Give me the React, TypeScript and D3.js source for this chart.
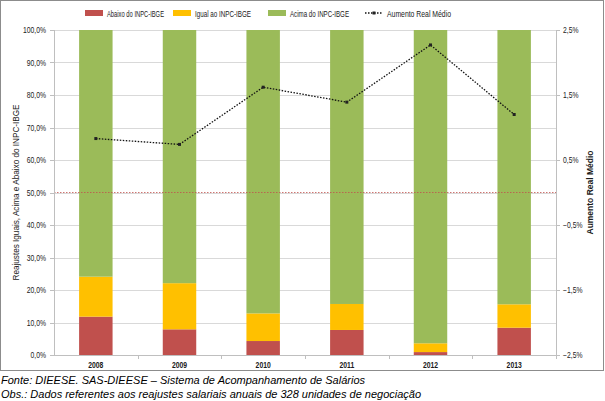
import { useEffect, useRef } from "react";
import * as d3 from "d3";

const years = ["2008", "2009", "2010", "2011", "2012", "2013"];
const abaixo = [11.8, 7.9, 4.3, 7.7, 0.9, 8.4];
const igual = [12.3, 14.2, 8.5, 8.0, 2.7, 7.2];
const acima = [75.9, 77.9, 87.2, 84.3, 96.4, 84.4];
const aumentoReal = [0.83, 0.74, 1.62, 1.39, 2.27, 1.2];
const leftTicks = [0, 10, 20, 30, 40, 50, 60, 70, 80, 90, 100];
const rightTicks = [-2.5, -1.5, -0.5, 0.5, 1.5, 2.5];

const seriesNames = ["Abaixo do INPC-IBGE", "Igual ao INPC-IBGE", "Acima do INPC-IBGE"];
const seriesColors = ["#C0504D", "#FFC000", "#9BBB59"];

export default function App() {
  const svgRef = useRef<SVGSVGElement>(null);

  useEffect(() => {
    if (!svgRef.current) return;
    const svg = d3.select(svgRef.current);
    svg.selectAll("*").remove();

    const left = 54, right = 556, top = 30, bottom = 355;
    const font = "'Liberation Sans', Arial, sans-serif";
    const fs = 8.5;
    const squeeze = 0.8; // approximate the narrow Calibri look

    // text drawn horizontally condensed
    const ctext = (g: any, x0: number, y0: number, str: string, anchor: string, bold = false) =>
      g.append("text")
        .attr("transform", `translate(${x0},${y0}) scale(${squeeze},1)`)
        .attr("text-anchor", anchor)
        .attr("font-family", font).attr("font-size", fs)
        .attr("font-weight", bold ? "bold" : "normal")
        .attr("fill", "#1a1a1a")
        .text(str);

    const x = d3.scaleBand().domain(years).range([left, right]).paddingInner(0.6).paddingOuter(0.3);
    const y = d3.scaleLinear().domain([0, 100]).range([bottom, top]);
    const y2 = d3.scaleLinear().domain([-2.5, 2.5]).range([bottom, top]);

    // chart frame
    svg.append("rect")
      .attr("x", 0.5).attr("y", 0.5).attr("width", 603).attr("height", 370)
      .attr("fill", "#fff").attr("stroke", "#8c8c8c");

    // gridlines
    svg.append("g").selectAll("line").data(leftTicks.filter(t => t > 0)).join("line")
      .attr("x1", left).attr("x2", right)
      .attr("y1", d => Math.round(y(d)) + 0.5).attr("y2", d => Math.round(y(d)) + 0.5)
      .attr("stroke", "#d9d9d9");

    // stacked bars
    const rows = years.map((yr, i) => ({ year: yr, a: abaixo[i], b: igual[i], c: acima[i] }));
    const stack = d3.stack<any>().keys(["a", "b", "c"])(rows);
    stack.forEach((layer, li) => {
      svg.append("g").selectAll("rect").data(layer).join("rect")
        .attr("x", d => x(d.data.year)!)
        .attr("width", x.bandwidth())
        .attr("y", d => y(d[1]))
        .attr("height", d => y(d[0]) - y(d[1]))
        .attr("fill", seriesColors[li]);
    });

    // 50% reference line
    svg.append("line")
      .attr("x1", left).attr("x2", right)
      .attr("y1", y(50)).attr("y2", y(50))
      .attr("stroke", "#C0504D").attr("stroke-width", 0.8).attr("stroke-dasharray", "1.5,1.5");

    // axes lines
    svg.append("line").attr("x1", left + 0.5).attr("x2", left + 0.5).attr("y1", top).attr("y2", bottom)
      .attr("stroke", "#bfbfbf");
    svg.append("line").attr("x1", right + 0.5).attr("x2", right + 0.5).attr("y1", top).attr("y2", bottom)
      .attr("stroke", "#bfbfbf");
    svg.append("line").attr("x1", left).attr("x2", right).attr("y1", bottom + 0.5).attr("y2", bottom + 0.5)
      .attr("stroke", "#bfbfbf");

    // left ticks
    const lt = svg.append("g");
    leftTicks.forEach(t => {
      lt.append("line").attr("x1", left - 4).attr("x2", left).attr("y1", Math.round(y(t)) + 0.5).attr("y2", Math.round(y(t)) + 0.5)
        .attr("stroke", "#bfbfbf");
      ctext(lt, left - 8, y(t) + 3, d3.format(".1f")(t).replace(".", ",") + "%", "end");
    });

    // right ticks
    const rt = svg.append("g");
    rightTicks.forEach(t => {
      rt.append("line").attr("x1", right).attr("x2", right + 4).attr("y1", Math.round(y2(t)) + 0.5).attr("y2", Math.round(y2(t)) + 0.5)
        .attr("stroke", "#bfbfbf");
      ctext(rt, right + 7, y2(t) + 3, d3.format(".1f")(t).replace(".", ",") + "%", "start");
    });

    // category ticks and labels
    years.forEach((yr, i) => {
      const cx = x(yr)! + x.bandwidth() / 2;
      const bx = left + (right - left) / years.length * (i + 1);
      svg.append("line").attr("x1", Math.round(bx) + 0.5).attr("x2", Math.round(bx) + 0.5)
        .attr("y1", bottom).attr("y2", bottom + 4).attr("stroke", "#bfbfbf");
      ctext(svg, cx, bottom + 13, yr, "middle", true);
    });

    // line series
    const line = d3.line<number>()
      .x((_, i) => x(years[i])! + x.bandwidth() / 2)
      .y(d => y2(d));
    svg.append("path").datum(aumentoReal).attr("d", line)
      .attr("fill", "none").attr("stroke", "#111").attr("stroke-width", 1.3).attr("stroke-dasharray", "1.5,1.5");
    svg.append("g").selectAll("rect").data(aumentoReal).join("rect")
      .attr("x", (_, i) => x(years[i])! + x.bandwidth() / 2 - 1.5)
      .attr("y", d => y2(d) - 1.5)
      .attr("width", 3).attr("height", 3).attr("fill", "#222");

    // axis titles
    svg.append("text")
      .attr("transform", `translate(19,${(top + bottom) / 2}) rotate(-90)`)
      .attr("text-anchor", "middle").attr("font-family", font).attr("font-size", 9).attr("fill", "#1a1a1a")
      .attr("textLength", 176).attr("lengthAdjust", "spacingAndGlyphs")
      .text("Reajustes Iguais, Acima e Abaixo do INPC-IBGE");
    svg.append("text")
      .attr("transform", `translate(593,${(top + bottom) / 2}) rotate(-90)`)
      .attr("text-anchor", "middle").attr("font-family", font).attr("font-size", 9).attr("font-weight", "bold")
      .attr("fill", "#1a1a1a")
      .attr("textLength", 84).attr("lengthAdjust", "spacingAndGlyphs")
      .text("Aumento Real Médio");

    // legend
    const lg = svg.append("g");
    const legendX = [85, 173, 268];
    const legendLen = [57, 56, 59];
    seriesNames.forEach((n, i) => {
      lg.append("rect").attr("x", legendX[i]).attr("y", 10).attr("width", 18).attr("height", 6).attr("fill", seriesColors[i]);
      lg.append("text").attr("x", legendX[i] + 22).attr("y", 16.5).attr("font-family", font).attr("font-size", 9.5)
        .attr("textLength", legendLen[i]).attr("lengthAdjust", "spacingAndGlyphs")
        .attr("fill", "#1a1a1a").text(n);
    });
    lg.append("line").attr("x1", 365).attr("x2", 383).attr("y1", 13).attr("y2", 13)
      .attr("stroke", "#111").attr("stroke-width", 1.3).attr("stroke-dasharray", "1.5,1.5");
    lg.append("rect").attr("x", 372.5).attr("y", 11.5).attr("width", 3).attr("height", 3).attr("fill", "#222");
    lg.append("text").attr("x", 387).attr("y", 16.5).attr("font-family", font).attr("font-size", 9.5)
      .attr("textLength", 64).attr("lengthAdjust", "spacingAndGlyphs")
      .attr("fill", "#1a1a1a").text("Aumento Real Médio");

    // footnotes
    svg.append("text").attr("x", 1).attr("y", 384).attr("font-family", font).attr("font-size", 11)
      .attr("font-style", "italic").attr("fill", "#000")
      .text("Fonte: DIEESE. SAS-DIEESE – Sistema de Acompanhamento de Salários");
    svg.append("text").attr("x", 1).attr("y", 398).attr("font-family", font).attr("font-size", 11)
      .attr("font-style", "italic").attr("fill", "#000")
      .text("Obs.: Dados referentes aos reajustes salariais anuais de 328 unidades de negociação");
  }, []);

  return (
    <div style={{ position: "fixed", left: 0, top: 0, width: 605, height: 401, background: "#fff" }}>
      <svg ref={svgRef} width={605} height={401} style={{ display: "block" }} />
    </div>
  );
}
